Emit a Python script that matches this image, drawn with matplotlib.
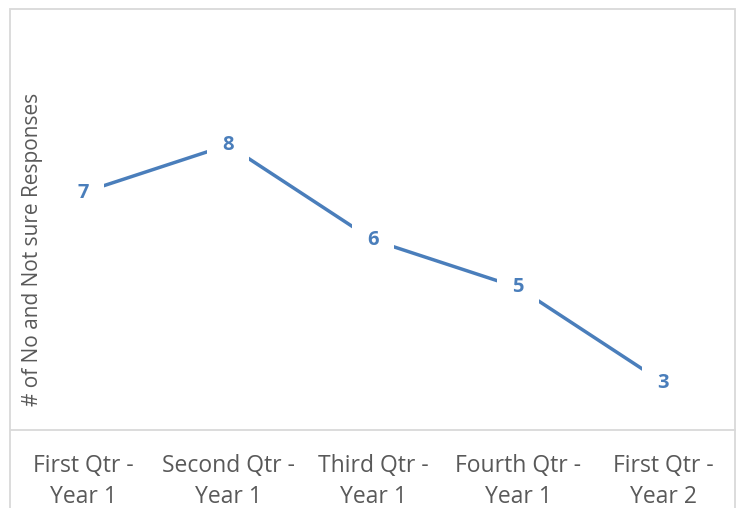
import matplotlib.pyplot as plt
from matplotlib.patches import Rectangle

# quarterly counts
quarters = ["First Qtr -\nYear 1", "Second Qtr -\nYear 1", "Third Qtr -\nYear 1",
            "Fourth Qtr -\nYear 1", "First Qtr -\nYear 2"]
responses = [7, 8, 6, 5, 3]

blue = "#4a7ebb"
grey = "#595959"
plt.rcParams['font.family'] = ['Open Sans', 'DejaVu Sans']

W, H = 736, 508
fig = plt.figure(figsize=(W / 100, H / 100), dpi=100)
ax = fig.add_axes([10.5 / W, (H - 430) / H, 725 / W, 380 / H])

x = list(range(len(quarters)))
ax.plot(x, responses, color=blue, linewidth=2.5, solid_capstyle='butt')
for xi, v in zip(x, responses):
    ax.text(xi, v, str(v), ha='center', va='center', color=blue,
            fontsize=14.5, fontweight='bold',
            bbox=dict(boxstyle='square,pad=0.75', fc='white', ec='none'))

ax.set_xlim(-0.5, len(quarters) - 0.5)
ax.set_ylim(2, 10)
ax.set_yticks([])
ax.set_xticks(x)
ax.set_xticklabels(quarters, fontsize=16.5, color=grey, linespacing=1.4)
ax.tick_params(axis='x', length=0, pad=17)
for s in ['top', 'left', 'right']:
    ax.spines[s].set_visible(False)
ax.spines['bottom'].set_color('#d9d9d9')
ax.spines['bottom'].set_linewidth(1.3)

fig.text(33 / W, (H - 249) / H, "# of No and Not sure Responses", rotation=90,
         ha='center', va='center', fontsize=15, color=grey)

# chart border
fig.patches.append(Rectangle((10 / W, -0.1), 725 / W, (H - 9) / H + 0.1,
                             transform=fig.transFigure, fill=False,
                             ec='#d9d9d9', lw=1.3))

fig.savefig("out.png", dpi=100)
